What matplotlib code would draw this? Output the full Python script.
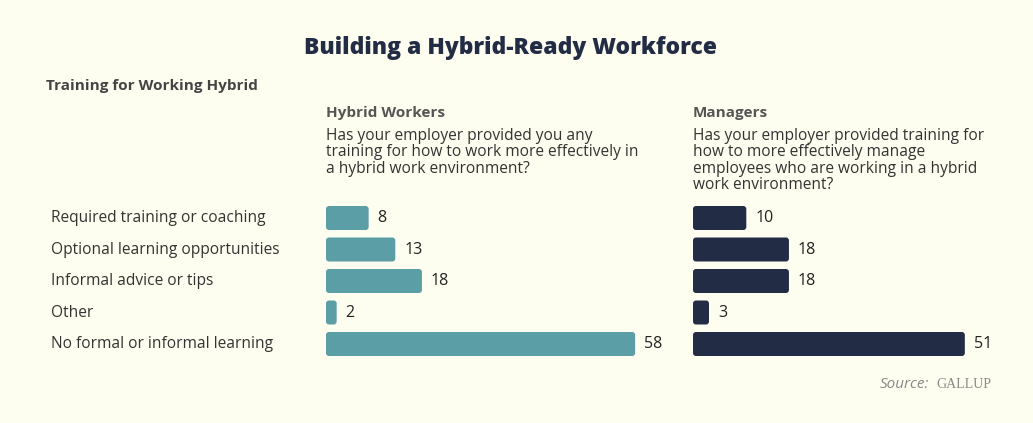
import matplotlib.pyplot as plt
import matplotlib.transforms as mtransforms
from matplotlib.patches import FancyBboxPatch

categories = ['Required training or coaching', 'Optional learning opportunities',
              'Informal advice or tips', 'Other', 'No formal or informal learning']
workers = [8, 13, 18, 2, 58]
managers = [10, 18, 18, 3, 51]

W, H = 1033, 423
bg = '#FEFEF0'
teal = '#5B9EA6'
navy = '#232C45'
plt.rcParams['font.family'] = ['Open Sans', 'DejaVu Sans']

fig = plt.figure(figsize=(W / 100, H / 100), dpi=100, facecolor=bg)

px = 5.33          # pixels per percentage point
row = 31.5         # pixels between rows
top = 218 - row / 2


def make_ax(left, width):
    ax = fig.add_axes([left / W, 1 - (top + 5 * row) / H, width / W, 5 * row / H])
    ax.set_facecolor(bg)
    ax.set_xlim(0, width / px)
    ax.set_ylim(4.5, -0.5)
    ax.axis('off')
    return ax


def rounded_bars(ax, values, color):
    bars = ax.barh(range(len(values)), values, height=24 / row, color=color)
    r = 3.0
    for b in bars:
        b.set_visible(False)
        p = FancyBboxPatch((b.get_x(), b.get_y()), b.get_width(), b.get_height(),
                           boxstyle='round,pad=0,rounding_size={}'.format(r / px),
                           mutation_aspect=px / row, fc=color, ec='none')
        ax.add_patch(p)
    for i, v in enumerate(values):
        ax.annotate(str(v), (v, i), xytext=(6.5, 0), textcoords='offset points',
                    va='center', ha='left', fontsize=11.5, color='#222222')


ax1 = make_ax(326, 345)
ax2 = make_ax(693, 320)
rounded_bars(ax1, workers, teal)
rounded_bars(ax2, managers, navy)

trans = mtransforms.blended_transform_factory(fig.transFigure, ax1.transData)
for i, c in enumerate(categories):
    ax1.text(51 / W, i, c, transform=trans, va='center', ha='left',
             fontsize=11.2, color='#333333')


def ftext(x, y, s, **kw):
    fig.text(x / W, 1 - y / H, s, **kw)


ftext(511, 48, 'Building a Hybrid-Ready Workforce', ha='center', va='center',
      fontsize=16.5, fontweight=800, color=navy)
ftext(46, 86, 'Training for Working Hybrid', va='center', fontsize=11,
      fontweight='bold', color='#444444')
ftext(326, 113, 'Hybrid Workers', va='center', fontsize=11, fontweight='bold',
      color='#555555')
ftext(693, 113, 'Managers', va='center', fontsize=11, fontweight='bold',
      color='#555555')
ftext(326, 127.5, 'Has your employer provided you any\ntraining for how to work more effectively in\n'
      'a hybrid work environment?', va='top', fontsize=11.2, color='#333333',
      linespacing=1.05)
ftext(693, 127.5, 'Has your employer provided training for\nhow to more effectively manage\n'
      'employees who are working in a hybrid\nwork environment?', va='top', fontsize=11.2,
      color='#333333', linespacing=1.05)
ftext(929, 384, 'Source:', ha='right', va='center', fontsize=11, style='italic',
      color='#888888')
ftext(936, 384, 'GALLUP', ha='left', va='center', fontsize=10, family='Liberation Serif',
      color='#888888')

fig.savefig('out.png', dpi=100, facecolor=bg)
